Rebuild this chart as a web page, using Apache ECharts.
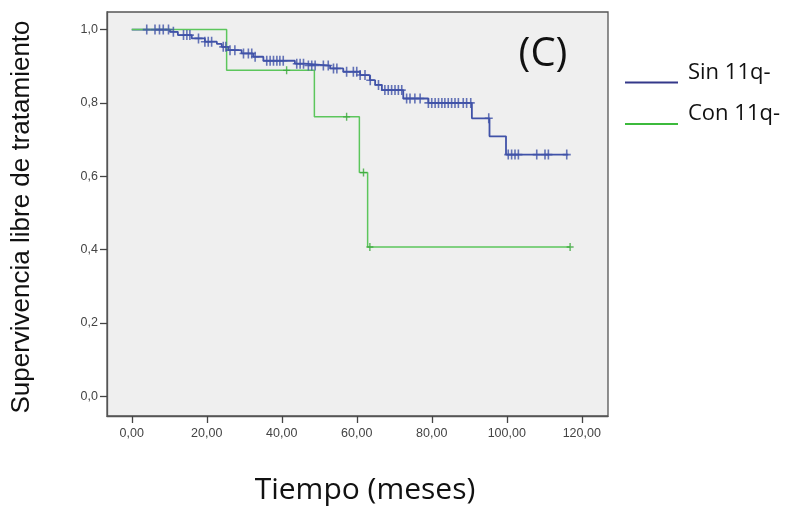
<!DOCTYPE html>
<html><head><meta charset="utf-8">
<script src="https://cdn.jsdelivr.net/npm/echarts@6/dist/echarts.min.js"></script>
<style>html,body{margin:0;padding:0;background:#fff}#c{width:791px;height:508px}</style>
</head><body><div id="c"></div>
<script>
// Kaplan-Meier step data (time in months, survival after the event)
const sinTimes = [0, 10.2, 12.3, 16.0, 19.5, 22.7, 24.0, 25.7, 29.3, 32.4, 35.1, 43.5, 46.2, 52.9, 56.4, 60.9, 63.5, 64.9, 66.7, 72.4, 79.1, 90.7, 95.4, 99.8, 116.4];
const sinSurv  = [1.0, 0.994, 0.985, 0.976, 0.967, 0.961, 0.953, 0.944, 0.935, 0.926, 0.915, 0.907, 0.902, 0.894, 0.885, 0.876, 0.862, 0.849, 0.835, 0.812, 0.800, 0.758, 0.709, 0.659, 0.659];
const sinCensored = [4.0, 6.2, 7.4, 8.4, 9.8, 11.1, 13.8, 14.7, 15.5, 17.8, 19.5, 20.4, 21.3, 24.4, 25.1, 26.2, 27.5, 29.8, 31.1,
  32.0, 32.9, 36.0, 36.9, 37.8, 38.7, 39.5, 40.4, 44.0, 44.9, 45.8, 47.1, 48.0, 48.9, 51.1, 52.4, 53.8, 54.7, 57.3, 59.1, 60.0, 60.9, 62.2,
  63.6, 65.8, 67.5, 68.4, 69.3, 70.2, 71.1, 72.0, 73.3, 74.2, 75.5, 76.9, 79.1, 80.0, 80.9, 81.8, 82.7, 83.5, 84.4, 85.3, 86.2, 87.1, 88.4, 89.3, 90.4,
  95.2, 100.4, 101.3, 102.2, 103.1, 108.0, 110.2, 111.1, 116.0];
const conTimes = [0, 25.3, 48.7, 60.7, 62.9, 116.9];
const conSurv  = [1.0, 0.889, 0.762, 0.610, 0.407, 0.407];
const conCensored = [41.3, 57.3, 61.8, 63.5, 116.9];
const xTicks = [0, 20, 40, 60, 80, 100, 120];
const yTicks = [0, 0.2, 0.4, 0.6, 0.8, 1.0];
const seriesNames = ['Sin 11q-', 'Con 11q-'];

function survAt(times, surv, t) {
  let v = surv[0];
  for (let i = 0; i < times.length; i++) { if (times[i] <= t) v = surv[i]; }
  return v;
}
const blue = '#4052a8', green = '#5cc65c';
const plus = 'path://M-1,-0.16H1V0.16H-1Z M-0.2,-1H0.2V1H-0.2Z';

const chart = echarts.init(document.getElementById('c'), null, {renderer: 'canvas'});
const lblFont = {fontFamily: 'Liberation Sans Narrow, Liberation Sans, Arial', fontSize: 12.5, color: '#444'};
chart.setOption({
  animation: false,
  grid: {left: 107, top: 12, right: 183, bottom: 92, show: true, backgroundColor: '#efefef', borderColor: '#555', borderWidth: 1.3},
  xAxis: {
    type: 'value', min: -6.6, max: 127.0,
    splitLine: {show: false},
    axisLine: {show: true, onZero: false, lineStyle: {color: '#555', width: 1.3}},
    axisTick: {show: true, length: 7, customValues: xTicks, lineStyle: {color: '#444', width: 1.3}},
    axisLabel: Object.assign({margin: 11, customValues: xTicks, formatter: v => v.toFixed(2).replace('.', ',')}, lblFont)
  },
  yAxis: {
    type: 'value', min: -0.054, max: 1.048,
    splitLine: {show: false},
    axisLine: {show: true, onZero: false, lineStyle: {color: '#555', width: 1.3}},
    axisTick: {show: true, length: 7, customValues: yTicks, lineStyle: {color: '#444', width: 1.3}},
    axisLabel: Object.assign({margin: 9, customValues: yTicks, formatter: v => v.toFixed(1).replace('.', ',')}, lblFont)
  },
  series: [
    {name: seriesNames[0], type: 'line', step: 'end', symbol: 'none', data: sinTimes.map((t, i) => [t, sinSurv[i]]), lineStyle: {color: blue, width: 1.8}, z: 2},
    {name: seriesNames[1], type: 'line', step: 'end', symbol: 'none', data: conTimes.map((t, i) => [t, conSurv[i]]), lineStyle: {color: green, width: 1.5}, z: 3},
    {name: 'sinCens', type: 'scatter', symbol: plus, symbolSize: [8, 10], itemStyle: {color: blue}, data: sinCensored.map(t => [t, survAt(sinTimes, sinSurv, t)]), z: 4},
    {name: 'conCens', type: 'scatter', symbol: plus, symbolSize: [7, 8], itemStyle: {color: '#3aa83a'}, data: conCensored.map(t => [t, survAt(conTimes, conSurv, t)]), z: 5}
  ],
  graphic: [
    {type: 'text', x: 543, y: 55, style: {text: '(C)', fontFamily: 'Open Sans', fontSize: 40, fill: '#111', align: 'center', verticalAlign: 'middle'}},
    {type: 'line', shape: {x1: 625, y1: 82.5, x2: 678, y2: 82.5}, style: {stroke: '#34388a', lineWidth: 2}},
    {type: 'line', shape: {x1: 625, y1: 124, x2: 678, y2: 124}, style: {stroke: '#3cba3c', lineWidth: 2}},
    {type: 'text', x: 688, y: 73, style: {text: seriesNames[0], fontFamily: 'Open Sans', fontSize: 22, fill: '#111', verticalAlign: 'middle'}},
    {type: 'text', x: 688, y: 114, style: {text: seriesNames[1], fontFamily: 'Open Sans', fontSize: 22, fill: '#111', verticalAlign: 'middle'}},
    {type: 'text', x: 22, y: 217, rotation: Math.PI / 2, style: {text: 'Supervivencia libre de tratamiento', fontFamily: 'Liberation Sans', fontSize: 26, fill: '#111', align: 'center', verticalAlign: 'middle'}},
    {type: 'text', x: 365, y: 490, style: {text: 'Tiempo (meses)', fontFamily: 'Open Sans', fontSize: 30, fill: '#111', align: 'center', verticalAlign: 'middle'}}
  ]
});
</script></body></html>
